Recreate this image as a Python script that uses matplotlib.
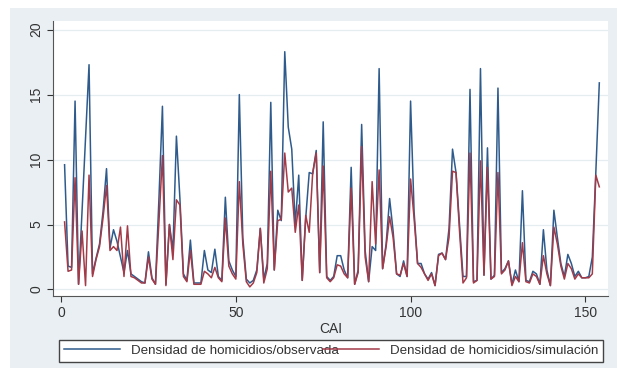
import matplotlib.pyplot as plt
import numpy as np
from matplotlib.patches import Rectangle

plt.rcParams['font.family'] = ['Liberation Sans', 'DejaVu Sans']

# === Data ===
observada = [
    9.6, 1.8, 1.7, 14.5, 0.4, 6.0, 11.6, 17.3, 1.2, 2.4,
    3.5, 6.0, 9.3, 3.2, 4.6, 3.7, 2.5, 1.3, 3.0, 1.2,
    1.0, 0.8, 0.6, 0.5, 2.9, 0.9, 0.4, 7.0, 14.1, 0.4,
    5.0, 3.0, 11.8, 7.0, 1.2, 0.7, 3.8, 0.5, 0.5, 0.5,
    3.0, 1.5, 1.3, 3.1, 1.0, 0.7, 7.1, 2.2, 1.5, 1.0,
    15.0, 4.0, 0.8, 0.5, 0.7, 1.5, 4.7, 0.8, 2.0, 14.4,
    1.5, 6.1, 5.3, 18.3, 12.5, 10.8, 5.0, 8.8, 0.7, 5.5,
    9.0, 8.9, 10.7, 1.3, 12.9, 1.0, 0.7, 1.0, 2.6, 2.6,
    1.5, 0.9, 9.4, 0.4, 1.5, 12.7, 3.0, 0.6, 3.3, 3.0,
    17.0, 1.6, 3.5, 7.0, 4.5, 1.2, 1.0, 2.2, 1.0, 14.5,
    6.0, 2.0, 2.0, 1.2, 0.8, 1.3, 0.3, 2.7, 2.8, 2.3,
    4.7, 10.8, 9.0, 5.0, 1.0, 1.0, 15.4, 0.6, 0.7, 17.0,
    1.1, 10.9, 0.8, 1.1, 15.5, 1.3, 1.6, 2.2, 0.4, 1.5,
    0.6, 7.6, 0.7, 0.6, 1.4, 1.2, 0.4, 4.6, 1.5, 0.3,
    6.1, 4.0, 2.0, 1.0, 2.7, 2.0, 1.0, 1.4, 0.9, 0.9,
    1.0, 2.5, 9.0, 15.9,
]
simulacion = [
    5.2, 1.4, 1.5, 8.6, 0.4, 4.5, 0.3, 8.8, 1.0, 2.3,
    3.3, 5.5, 8.0, 3.0, 3.3, 3.0, 4.8, 1.0, 4.9, 1.0,
    0.9, 0.7, 0.5, 0.5, 2.5, 0.8, 0.4, 5.2, 10.3, 0.3,
    5.0, 2.3, 6.9, 6.5, 1.0, 0.6, 3.0, 0.4, 0.4, 0.4,
    1.4, 1.2, 0.9, 1.7, 0.9, 0.6, 5.5, 1.8, 1.2, 0.8,
    8.3, 3.5, 0.6, 0.2, 0.5, 1.3, 4.7, 0.5, 1.6, 9.1,
    1.5, 5.3, 5.4, 10.5, 7.5, 7.8, 4.4, 6.5, 0.7, 5.7,
    4.4, 9.0, 10.5, 1.3, 9.5, 0.9, 0.6, 0.9, 1.9, 1.8,
    1.2, 0.9, 7.8, 0.4, 1.3, 11.0, 2.5, 0.6, 8.3, 3.5,
    9.2, 1.6, 3.3, 5.6, 4.0, 1.2, 1.1, 2.0, 1.0, 8.5,
    5.5, 2.0, 1.7, 1.2, 0.7, 1.2, 0.3, 2.6, 2.8, 2.3,
    4.0, 9.1, 9.0, 4.5, 0.5, 0.9, 10.5, 0.5, 0.7, 9.9,
    1.1, 9.4, 0.8, 1.0, 9.0, 1.2, 1.5, 2.2, 0.3, 1.0,
    0.6, 3.6, 0.6, 0.5, 1.2, 1.0, 0.4, 2.6, 1.2, 0.3,
    4.8, 3.5, 1.8, 0.8, 2.0, 1.6, 0.8, 1.2, 0.9, 0.9,
    0.9, 1.2, 8.8, 7.9,
]
cai = np.arange(1, len(observada) + 1)

x_ticks = [0, 50, 100, 150]
y_ticks = [0, 5, 10, 15, 20]
labels = ["Densidad de homicidios/observada", "Densidad de homicidios/simulación"]

# === Figure ===
fig = plt.figure(figsize=(6.24, 3.78), dpi=100, facecolor='white')
fig.patches.append(Rectangle((0.016, 0.026), 0.973, 0.952, transform=fig.transFigure,
                             facecolor='#e9eff2', edgecolor='none', zorder=-10))

ax = fig.add_axes([0.085, 0.217, 0.89, 0.727])
ax.set_facecolor('white')

ax.plot(cai, observada, color='#2f5b8c', lw=1.1, label=labels[0])
ax.plot(cai, simulacion, color='#a33a48', lw=1.1, label=labels[1])

ax.set_xlim(-2.3, 156.6)
ax.set_ylim(-0.5, 20.65)
ax.set_xticks(x_ticks)
ax.set_yticks(y_ticks)
ax.set_yticklabels([str(v) for v in y_ticks], rotation=90, va='center')
ax.tick_params(axis='both', labelsize=10, colors='#333333', length=4, width=0.8)
ax.tick_params(axis='y', pad=3)
ax.set_xlabel("CAI", fontsize=10, color='#333333', labelpad=1)
ax.grid(axis='y', color='#e6edf0', lw=0.9)
ax.set_axisbelow(True)

for side in ['top', 'right']:
    ax.spines[side].set_visible(False)
for side in ['left', 'bottom']:
    ax.spines[side].set_color('#555555')
    ax.spines[side].set_linewidth(0.8)

leg = fig.legend(loc='center', bbox_to_anchor=(0.095, 0.040, 0.871, 0.063),
                 mode='expand', ncol=2, fontsize=9.6, handlelength=4.2,
                 fancybox=False, edgecolor='#444444', framealpha=1,
                 borderaxespad=0, borderpad=0.35, handletextpad=0.8)
leg.get_frame().set_linewidth(1.0)
for t in leg.get_texts():
    t.set_color('#333333')

fig.savefig("out.png", dpi=100)
